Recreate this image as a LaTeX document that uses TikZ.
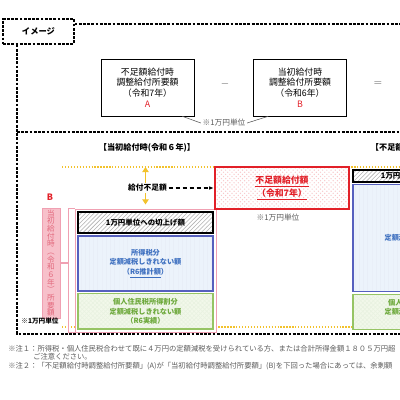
\documentclass[tikz,border=0pt]{standalone}
\usepackage{fontspec}
\setmainfont{Noto Sans CJK JP}
\usetikzlibrary{positioning,arrows.meta,calc,patterns,fit}
\definecolor{imgred}{RGB}{226,32,40}
\definecolor{imgpink}{RGB}{247,192,202}
\definecolor{imgpinktext}{RGB}{226,104,124}
\definecolor{imgpinkline}{RGB}{240,160,178}
\definecolor{imggold}{RGB}{242,194,44}
\definecolor{imgblue}{RGB}{62,112,192}
\definecolor{imgblueline}{RGB}{86,96,190}
\definecolor{imgbluefill}{RGB}{236,243,251}
\definecolor{imggreen}{RGB}{108,168,58}
\definecolor{imggreenline}{RGB}{150,196,100}
\definecolor{imggreenfill}{RGB}{242,248,234}
\definecolor{imggray}{RGB}{90,90,90}
\tikzset{
  frame/.style={line width=0.8pt, dash pattern=on 2pt off 1pt},
  imgtag/.style={draw, frame, minimum width=17.75mm, minimum height=6.25mm, font=\fontsize{5.9}{7}\selectfont\bfseries},
  eqbox/.style={draw, thin, align=center, minimum width=23.25mm, minimum height=14.25mm, font=\fontsize{6.3}{7.5}\selectfont},
  sign/.style={text=imggray, font=\fontsize{7}{8}\selectfont},
  title/.style={font=\fontsize{5.8}{7}\selectfont\bfseries},
  cutbox/.style={draw, line width=1.1pt, inner sep=1pt, preaction={fill=white}, pattern=north east lines, pattern color=black!30, minimum width=33.75mm, font=\fontsize{5.3}{6.3}\selectfont\bfseries},
  taxbox/.style={draw=imgblueline, line width=1pt, preaction={fill=imgbluefill}, pattern=vertical lines, pattern color=imgblue!12, text=imgblue, align=center, minimum width=33.75mm, font=\fontsize{5.1}{6.8}\selectfont\bfseries},
  resbox/.style={draw=imggreenline, line width=1pt, preaction={fill=imggreenfill}, pattern=crosshatch, pattern color=imggreen!15, text=imggreen, align=center, minimum width=33.75mm, minimum height=8.75mm, font=\fontsize{5.1}{6.8}\selectfont\bfseries},
  shortbox/.style={draw=imgred, line width=1.5pt, preaction={fill=white}, pattern=crosshatch dots, pattern color=imgred!25, text=imgred, align=center, minimum width=33.5mm, minimum height=10.5mm, font=\fontsize{6.3}{7.3}\selectfont\bfseries},
  vlabel/.style={draw=imgpinkline, fill=imgpink, text=imgpinktext, align=center, minimum width=4.5mm, minimum height=27.5mm, inner sep=0.2mm, font=\fontsize{5.4}{5.45}\selectfont},
  gaplabel/.style={fill=white, inner sep=1pt, font=\fontsize{5.5}{6}\selectfont\bfseries},
  unit/.style={text=imggray, inner sep=1pt, font=\fontsize{5.5}{6}\selectfont},
  note/.style={text=imggray, anchor=west, inner sep=0pt, font=\fontsize{5.2}{6}\selectfont},
  dotline/.style={imggold, line width=1.1pt, dash pattern=on 0.9pt off 1.2pt},
  gaparrow/.style={{Triangle[width=1.6mm,length=1.3mm]}-{Triangle[width=1.6mm,length=1.3mm]}, imggold, line width=0.9pt, shorten >=1mm},
  dasharrow/.style={-{Latex[length=1.2mm]}, line width=1pt, dash pattern=on 3pt off 2pt},
  brk/.style={imgpinkline, line width=0.8pt},
  callout/.style={imggray, thin}
}
\begin{document}
\begin{tikzpicture}[x=0.25mm, y=-0.25mm, node distance=0.4mm]
  \useasboundingbox (0,0) rectangle (400,400);
  \clip (0,0) rectangle (400,400);
  \node[imgtag] (imgbox) at (38.5,31.5) {イメージ};
  \coordinate (ftop) at (400,24);
  \coordinate (fmid) at (17,132);
  \coordinate (fbot) at (17,334);
  \draw[frame] (imgbox.east |- ftop) -- (ftop);
  \draw[frame] (imgbox.south -| fbot) -- (fbot) -- (fbot -| ftop);
  \draw[frame] (fmid) -- (fmid -| ftop);

  \node[eqbox] (boxA) at (147.5,87.5) {不足額給付時\\調整給付所要額\\（令和7年）\\\textcolor{imgred}{A}};
  \node[sign] (minus) at (225,84) {$-$};
  \node[eqbox] (boxB) at (300,87.5) {当初給付時\\調整給付所要額\\（令和6年）\\\textcolor{imgred}{B}};
  \node[sign] (equal) at (378,84) {$=$};
  \node[unit] (unitA) at (224,123) {※1万円単位};
  \draw[callout] ($(boxA.south east)+(-12,0)$) -- (unitA.west);
  \draw[callout] (unitA.east) -- ($(boxB.south west)+(15,0)$);

  \node[title] (titleL) at (147,148) {【当初給付時(令和６年)】};
  \node[title, anchor=west] (titleR) at (366,148) {【不足額給付時(令和７年)】};
  \coordinate (dotL) at (62,167);
  \coordinate (dotB) at (62,327);
  \draw[dotline] (dotL) -- (dotL -| ftop);
  \draw[dotline] (dotB) -- (dotB -| ftop);

  \node[cutbox, minimum height=5.25mm] (cutL) at (145.5,222.5) {1万円単位への切上げ額};
  \node[taxbox, minimum height=13.75mm, below=of cutL] (taxL) {所得税分\\定額減税しきれない額\\（\underline{R6推計額}）};
  \node[resbox, below=0.3mm of taxL] (resL) {個人住民税所得割分\\定額減税しきれない額\\（R6実績）};
  \node[fit=(cutL)(resL), draw=imgpinkline, thin, inner sep=0.6mm] (stackL) {};

  \node[cutbox, minimum height=3mm] (cutR) at (420.5,176) {1万円単位への切上げ額};
  \node[taxbox, minimum height=26.75mm, below=0.3mm of cutR] (taxR) {所得税分\\定額減税しきれない額\\（R6実績）};
  \node[resbox, below=0.3mm of taxR] (resR) {個人住民税所得割分\\定額減税しきれない額\\（R6実績）};

  \node[shortbox] (short) at (282,188) {\underline{不足額給付額}\\\underline{（令和7年）}};
  \node[unit] (unitR) at (278,218) {※1万円単位};
  \draw[gaparrow] (stackL.north |- dotL) -- (stackL.north);
  \node[gaplabel] (gap) at (147.5,188) {給付不足額};
  \draw[dasharrow] (gap.east) -- (short.west);

  \node[text=imgred, font=\fontsize{6.3}{7}\selectfont\bfseries] (labelB) at (50,197) {B};
  \node[vlabel] (vlab) at (51,263) {当\\初\\給\\付\\時\\︵\\令\\和\\６\\年\\︶\\所\\要\\額};
  \draw[brk] (stackL.north west) -- ++(-6,0) coordinate (brkt) -- (brkt |- stackL.south west) -- (stackL.south west);
  \draw[brk] (vlab.east) -- (vlab.east -| brkt);
  \node[unit, text=black, font=\fontsize{4.7}{5}\selectfont\bfseries] (unitL) at (40,321) {※1万円単位};

  \node[note] (note1) at (8,349) {※注１：所得税・個人住民税合わせて既に４万円の定額減税を受けられている方、または合計所得金額１８０５万円超};
  \node[note] (note1b) at (33,357) {ご注意ください。};
  \node[note] (note2) at (8,366) {※注２：「不足額給付時調整給付所要額」(A)が「当初給付時調整給付所要額」(B)を下回った場合にあっては、余剰額};
\end{tikzpicture}
\end{document}
